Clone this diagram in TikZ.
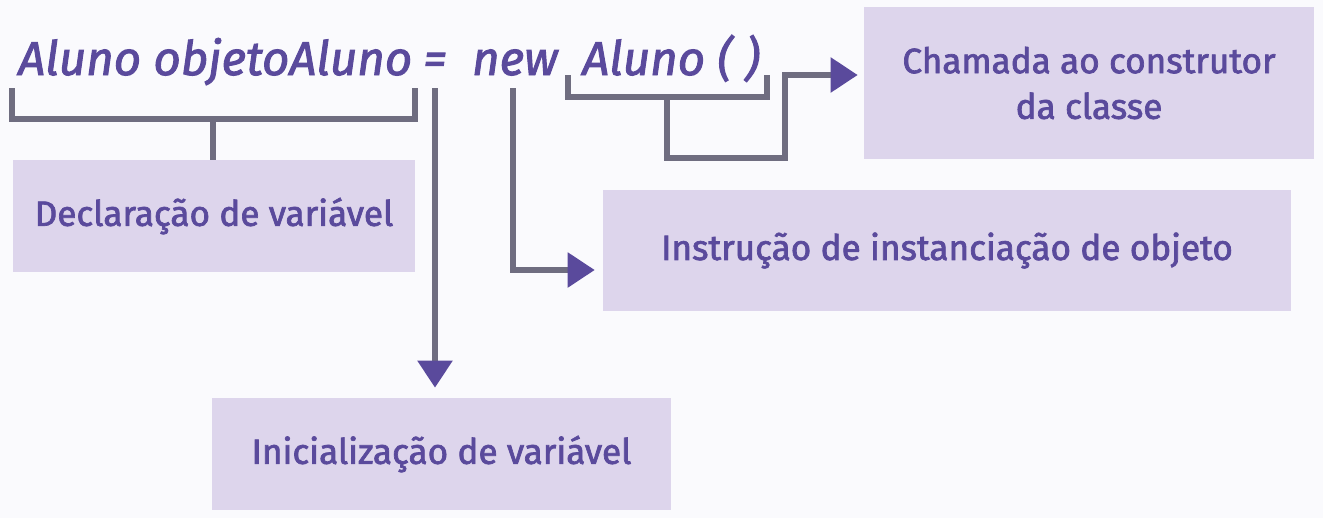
\documentclass[tikz,border=0pt]{standalone}
\usepackage{fontspec}
\setmainfont{Fira Sans}[FakeBold=2]
\usetikzlibrary{arrows.meta}
\definecolor{bgc}{HTML}{FAFAFD}
\definecolor{boxc}{HTML}{DDD5EC}
\definecolor{txtc}{HTML}{5A4A9C}
\definecolor{linec}{HTML}{6F6D80}
\begin{document}
\begin{tikzpicture}
	[
		x=0.02cm, y=-0.02cm,
		code/.style = {text=txtc, font=\fontsize{27}{30}\selectfont\itshape, inner sep=0pt, anchor=base},
		label/.style = {shape=rectangle, fill=boxc, text=txtc, font=\fontsize{20}{26}\selectfont, align=center, anchor=center},
		bracket/.style = {draw=linec, line width=0.11cm},
		arr/.style = {bracket, -{Triangle[length=0.54cm, width=0.68cm, color=txtc]}}
	]
	
	\fill [bgc] (0,0) rectangle (1323,518);
	\useasboundingbox (0,0) rectangle (1323,518);
	
	% code line
	\node [code, anchor=base west] (decltext) at (18,75) {Aluno objetoAluno};
	\node [code] (eqtext) at (435,75) {=};
	\node [code] (newtext) at (515,75) {new};
	\node [code, anchor=base west] (calltext) at (582,75) {Aluno ( )};
	
	% boxes
	\node [label, minimum width=8.04cm, minimum height=2.24cm] (decl) at (214,216) {Declaração de variável};
	\node [label, minimum width=9.18cm, minimum height=2.24cm] (init) at (441.5,454) {Inicialização de variável};
	\node [label, minimum width=13.76cm, minimum height=2.42cm] (inst) at (947,250.5) {Instrução de instanciação de objeto};
	\node [label, minimum width=9cm, minimum height=3.04cm] (call) at (1089,83) {Chamada ao construtor\\da classe};
	
	% declaration
	\draw [bracket] (12,88) -- (12,119) -- (415,119) -- (415,88);
	\coordinate (declstem) at (213,119);
	\draw [bracket] (declstem) -- (declstem |- decl.north);
	
	% initialization
	\coordinate (eqstem) at (435,88);
	\draw [arr, shorten >=0.2cm] (eqstem) -- (eqstem |- init.north);
	
	% instantiation
	\coordinate (newstem) at (513,88);
	\coordinate (newbend) at (513,270);
	\draw [arr, shorten >=0.16cm] (newstem) -- (newbend) -- (newbend -| inst.west);
	
	% constructor call
	\draw [bracket] (568,75) -- (568,97) -- (767,97) -- (767,75);
	\coordinate (callstem) at (667,97);
	\coordinate (callbend) at (785,75);
	\draw [arr, shorten >=0.12cm] (callstem) -- (667,158) -- (785,158) -- (callbend) -- (callbend -| call.west);
	
\end{tikzpicture}
\end{document}
